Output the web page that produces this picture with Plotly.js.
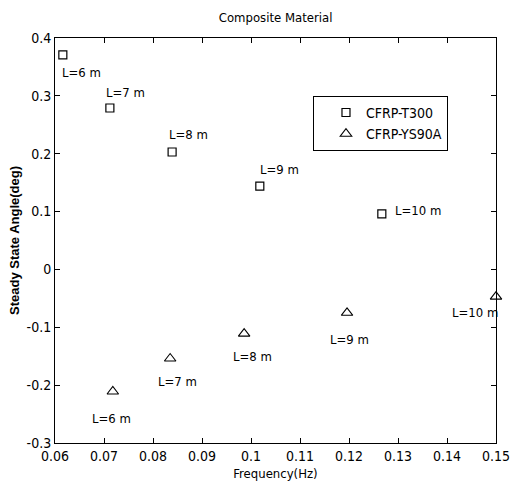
<!DOCTYPE html>
<html><head><meta charset="utf-8">
<script src="https://cdn.plot.ly/plotly-3.0.1.min.js"></script>
<style>body{margin:0;background:#fff}#plot{width:520px;height:487px}</style>
</head><body><div id="plot"></div>
<script>
var t300Freq = [0.0616, 0.0712, 0.0839, 0.1018, 0.1267];
var t300Angle = [0.371, 0.279, 0.203, 0.144, 0.096];
var ys90Freq = [0.0718, 0.0835, 0.0986, 0.1196, 0.1500];
var ys90Angle = [-0.211, -0.154, -0.111, -0.075, -0.047];
var lengthLabels = ['L=6 m', 'L=7 m', 'L=8 m', 'L=9 m', 'L=10 m'];
var xTicks = [0.06, 0.07, 0.08, 0.09, 0.1, 0.11, 0.12, 0.13, 0.14, 0.15];
var xTickText = ['0.06', '0.07', '0.08', '0.09', '0.1', '0.11', '0.12', '0.13', '0.14', '0.15'];
var yTicks = [-0.3, -0.2, -0.1, 0, 0.1, 0.2, 0.3, 0.4];
var yTickText = ['-0.3', '-0.2', '-0.1', '0', '0.1', '0.2', '0.3', '0.4'];

var FONT = '"DejaVu Sans Condensed", "Liberation Sans Narrow", "Arial Narrow", sans-serif';
var t300Offsets = [[19, -18], [16, 16], [16, 17], [20, 17], [36, 3]];
var ys90Offsets = [[-1, -27], [7, -23], [8, -23], [2, -27], [-21, -16]];

var annotations = [];
for (var i = 0; i < lengthLabels.length; i++) {
  annotations.push({x: t300Freq[i], y: t300Angle[i], xref: 'x', yref: 'y', text: lengthLabels[i],
    showarrow: false, xshift: t300Offsets[i][0], yshift: t300Offsets[i][1], font: {family: FONT, size: 13, color: '#000'}});
  annotations.push({x: ys90Freq[i], y: ys90Angle[i], xref: 'x', yref: 'y', text: lengthLabels[i],
    showarrow: false, xshift: ys90Offsets[i][0], yshift: ys90Offsets[i][1], font: {family: FONT, size: 13, color: '#000'}});
}

var traces = [
  {x: t300Freq, y: t300Angle, type: 'scatter', mode: 'markers', name: 'CFRP-T300', cliponaxis: false,
   marker: {symbol: 'square-open', size: 8, color: '#000', line: {width: 1.2, color: '#000'}}},
  {x: ys90Freq, y: ys90Angle, type: 'scatter', mode: 'markers', name: 'CFRP-YS90A', cliponaxis: false,
   marker: {symbol: 'triangle-up-open', size: 10, color: '#000', line: {width: 1.1, color: '#000'}}}
];

var layout = {
  width: 520, height: 487,
  margin: {l: 55, r: 24, t: 38, b: 44},
  paper_bgcolor: '#fff', plot_bgcolor: '#fff',
  font: {family: FONT, color: '#000', size: 13},
  title: {text: 'Composite Material', x: 0.53, xanchor: 'center', y: 0.965, yanchor: 'middle', font: {family: FONT, size: 13, color: '#000'}},
  xaxis: {range: [0.06, 0.15], tickvals: xTicks, ticktext: xTickText, ticks: 'inside', ticklen: 5, tickcolor: '#000',
    showline: true, linecolor: '#000', linewidth: 1, mirror: 'ticks', showgrid: false, zeroline: false,
    tickfont: {family: FONT, size: 14, color: '#000'},
    title: {text: 'Frequency(Hz)', standoff: 6, font: {family: FONT, size: 13, color: '#000'}}},
  yaxis: {range: [-0.3, 0.4], tickvals: yTicks, ticktext: yTickText, ticks: 'inside', ticklen: 5, tickcolor: '#000',
    showline: true, linecolor: '#000', linewidth: 1, mirror: 'ticks', showgrid: false, zeroline: false,
    tickfont: {family: FONT, size: 14, color: '#000'},
    title: {text: '<b>Steady State Angle(deg)</b>', standoff: 4, font: {family: '"Liberation Sans", Arial, sans-serif', size: 13, color: '#000'}}},
  showlegend: true,
  legend: {x: 0.585, y: 0.857, xanchor: 'left', yanchor: 'top', bgcolor: '#fff', bordercolor: '#000', borderwidth: 1,
    font: {family: FONT, size: 14, color: '#000'}, itemwidth: 30, indentation: 12},
  annotations: annotations
};

Plotly.newPlot('plot', traces, layout, {displayModeBar: false, staticPlot: true});
</script></body></html>
